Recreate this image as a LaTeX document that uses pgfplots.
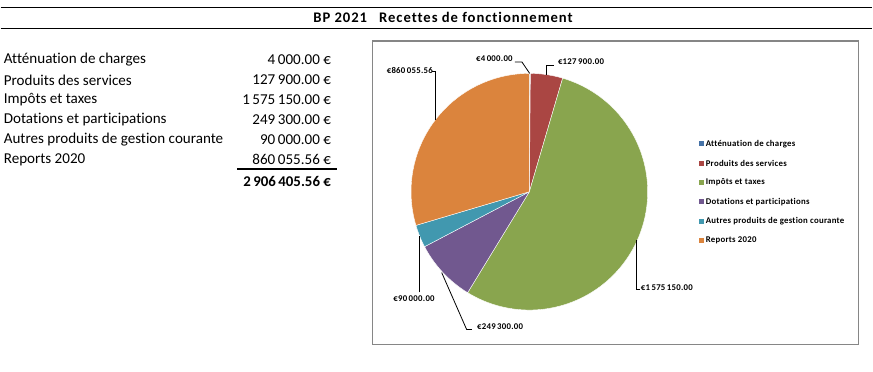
\documentclass[border=0pt]{standalone}
\usepackage{pgfplots}
\pgfplotsset{compat=1.18}
\usepackage{pgfplotstable}
\usepackage{fontspec}
\setmainfont{Carlito}[Ligatures=NoCommon]
\newfontfamily\titlefont[LetterSpace=6.5,Ligatures=NoCommon]{Carlito}
\newfontfamily\smallfont[LetterSpace=3,Ligatures=NoCommon]{Carlito}
\definecolor{pc0}{HTML}{4572A7}
\definecolor{pc1}{HTML}{AA4643}
\definecolor{pc2}{HTML}{89A54E}
\definecolor{pc3}{HTML}{71588F}
\definecolor{pc4}{HTML}{4198AF}
\definecolor{pc5}{HTML}{DB843D}
\definecolor{boxgray}{HTML}{868686}
\pgfplotstableread{
value
4000
127900
1575150
249300
90000
860055.56
}\piedata
\begin{document}%
\xdef\pietotal{0}%
\foreach \i in {0,...,5}{%
  \pgfplotstablegetelem{\i}{value}\of\piedata
  \xdef\pietotal{\fpeval{\pietotal+\pgfplotsretval}}%
}%
\xdef\piecum{0}%
\foreach \i in {0,...,5}{%
  \pgfplotstablegetelem{\i}{value}\of\piedata
  \expandafter\xdef\csname pieA\i\endcsname{\fpeval{360*\piecum/\pietotal}}%
  \xdef\piecum{\fpeval{\piecum+\pgfplotsretval}}%
  \expandafter\xdef\csname pieB\i\endcsname{\fpeval{360*\piecum/\pietotal}}%
}%
\begin{tikzpicture}
\begin{axis}[
  scale only axis, width=873pt, height=372pt,
  xmin=0, xmax=873, ymin=0, ymax=372, y dir=reverse,
  hide axis, clip=false,
]
% title lines
\draw[line width=1.3pt] (axis cs:0,7.3) -- (axis cs:873,7.3);
\draw[line width=1.3pt] (axis cs:0,28.3) -- (axis cs:873,28.3);
\node[anchor=west, font=\fontsize{14.67}{16}\titlefont\bfseries, inner sep=0pt] at (axis cs:313,17.8) {BP 2021\hspace{12pt}Recettes de fonctionnement};
% table
\begin{scope}[every node/.style={inner sep=0pt, font=\fontsize{15.1}{16}\selectfont}]
\node[anchor=west] at (axis cs:3,60) {Atténuation de charges};
\node[anchor=west] at (axis cs:3,80) {Produits des services};
\node[anchor=west] at (axis cs:3,100) {Impôts et taxes};
\node[anchor=west] at (axis cs:3,120) {Dotations et participations};
\node[anchor=west] at (axis cs:3,140) {Autres produits de gestion courante};
\node[anchor=west] at (axis cs:3,160) {Reports 2020};
\node[anchor=east] at (axis cs:331,60) {4\,000.00 €};
\node[anchor=east] at (axis cs:331,80) {127\,900.00 €};
\node[anchor=east] at (axis cs:331,100) {1\,575\,150.00 €};
\node[anchor=east] at (axis cs:331,120) {249\,300.00 €};
\node[anchor=east] at (axis cs:331,140) {90\,000.00 €};
\node[anchor=east] at (axis cs:331,160) {860\,055.56 €};
\node[anchor=east, font=\fontsize{14.9}{16}\selectfont\bfseries] at (axis cs:331,181.5) {2\,906\,405.56 €};
\end{scope}
\draw[line width=1.6pt] (axis cs:236.7,169.5) -- (axis cs:337,169.5);
% chart box
\draw[boxgray, line width=1.3pt] (axis cs:372.7,41) rectangle (axis cs:859.3,345);
% pie
\pgfplotsinvokeforeach{0,...,5}{
  \addplot[fill=pc#1, draw=white, line width=0.4pt, domain=\csname pieA#1\endcsname:\csname pieB#1\endcsname, samples=90, variable=\t]
    ({529.5+118.5*sin(\t)},{192-118.5*cos(\t)}) -- (axis cs:529.5,192) -- cycle;
}
% leader lines
\begin{scope}[line width=0.8pt]
\draw (axis cs:515,62) -- (axis cs:522,62) -- (axis cs:529.8,73.5);
\draw (axis cs:554,65) -- (axis cs:547,65) -- (axis cs:547,75);
\draw (axis cs:432,72) -- (axis cs:435,72) -- (axis cs:435,120);
\draw (axis cs:640,290) -- (axis cs:636.7,290) -- (axis cs:636.7,240);
\draw (axis cs:419,292.7) -- (axis cs:419,236.7);
\draw (axis cs:441.7,273) -- (axis cs:466.7,330) -- (axis cs:472,330);
\end{scope}
% data labels
\begin{scope}[every node/.style={inner sep=0pt, font=\fontsize{8.8}{9}\smallfont\bfseries}]
\node[anchor=east] at (axis cs:513,59) {€4\,000.00};
\node[anchor=west] at (axis cs:558,62) {€127\,900.00};
\node[anchor=east] at (axis cs:433,71) {€860\,055.56};
\node[anchor=west] at (axis cs:641,288) {€1\,575\,150.00};
\node[anchor=center] at (axis cs:414,299.5) {€90\,000.00};
\node[anchor=west] at (axis cs:477,327) {€249\,300.00};
\end{scope}
% legend
\begin{scope}[every node/.style={inner sep=0pt, anchor=west, font=\fontsize{8.8}{9}\smallfont\bfseries}]
\pgfplotsinvokeforeach{0,...,5}{
  \fill[pc#1] (axis cs:699,{144+19.4*#1-2.6}) rectangle (axis cs:704.2,{144+19.4*#1+2.6});
}
\node at (axis cs:706,144) {Atténuation de charges};
\node at (axis cs:706,163.4) {Produits des services};
\node at (axis cs:706,182.8) {Impôts et taxes};
\node at (axis cs:706,202.2) {Dotations et participations};
\node at (axis cs:706,221.6) {Autres produits de gestion courante};
\node at (axis cs:706,241) {Reports 2020};
\end{scope}
\end{axis}
\path (current axis.south west) rectangle (current axis.north east);
\end{tikzpicture}%
\end{document}
